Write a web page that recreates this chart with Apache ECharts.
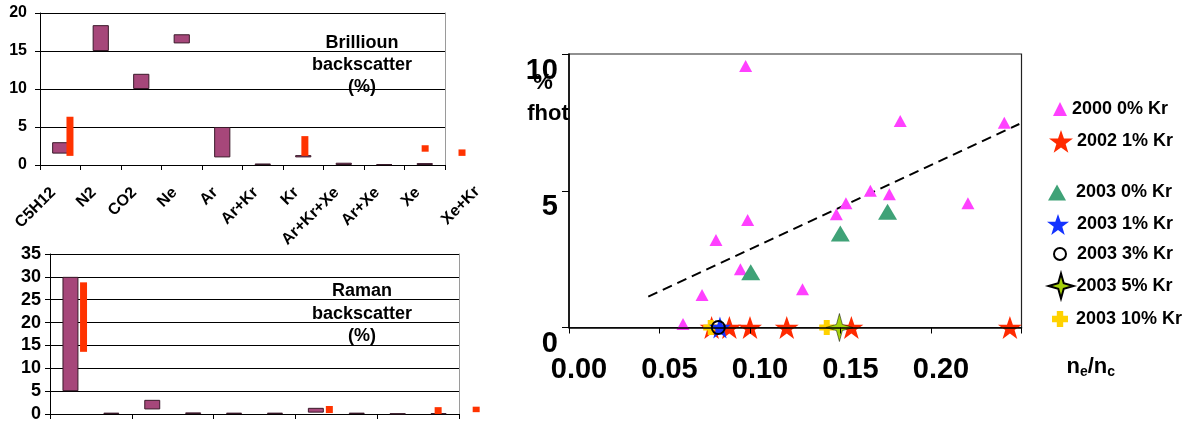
<!DOCTYPE html>
<html>
<head>
<meta charset="utf-8">
<script src="https://cdn.jsdelivr.net/npm/echarts@6/dist/echarts.min.js"></script>
<style>
  html, body { margin: 0; padding: 0; background: #ffffff; }
  #chart { width: 1190px; height: 427px; }
</style>
</head>
<body>
<div id="chart"></div>
<script>
// ---- gas fills (the last one sits past the end of the bar panels) ----
const gases = ['C5H12', 'N2', 'CO2', 'Ne', 'Ar', 'Ar+Kr', 'Kr', 'Ar+Kr+Xe', 'Ar+Xe', 'Xe', 'Xe+Kr'];

// Brillouin backscatter (%), measured range per gas: low .. high
const brillLow  = [1.5, 15.0, 10.0, 16.0, 1.0, 0.0, 1.0, 0.0, 0.0, 0.0];
const brillHigh = [3.0, 18.4, 12.0, 17.2, 5.0, 0.2, 1.3, 0.3, 0.1, 0.25];
// Brillouin backscatter (%), calculated range; position in category units
const brillCalcPos  = [0.24, 6.04, 9.01, 9.92];
const brillCalcLow  = [1.2, 1.2, 1.75, 1.2];
const brillCalcHigh = [6.35, 3.8, 2.6, 2.05];

// Raman backscatter (%), measured range per gas
const ramanLow  = [5.0, 0.0, 1.0, 0.0, 0.0, 0.0, 0.3, 0.0, 0.0, 0.0];
const ramanHigh = [30.0, 0.3, 3.1, 0.35, 0.3, 0.3, 1.35, 0.3, 0.1, 0.15];
// Raman backscatter (%), calculated range
const ramanCalcPos  = [0.32, 6.33, 8.99, 9.92];
const ramanCalcLow  = [13.6, 0.2, 0.0, 0.4];
const ramanCalcHigh = [28.8, 1.75, 1.5, 1.6];

// Hot-electron fraction fhot (%) against ne/nc
const fhot2000Kr0 = [
  [0.0976, 9.56], [0.183, 7.55], [0.2405, 7.49], [0.1665, 5.0], [0.177, 4.87],
  [0.153, 4.54], [0.1477, 4.14], [0.2204, 4.54], [0.0987, 3.93], [0.0812, 3.2],
  [0.0947, 2.13], [0.0735, 1.19], [0.129, 1.40], [0.063, 0.13]
];
const fhot2002Kr1  = [[0.0788, 0], [0.0886, 0], [0.100, 0], [0.1203, 0], [0.156, 0], [0.2436, 0]];
const fhot2003Kr0  = [[0.1004, 2.02], [0.1499, 3.44], [0.176, 4.23]];
const fhot2003Kr1  = [[0.0834, 0]];
const fhot2003Kr3  = [[0.0825, 0]];
const fhot2003Kr5  = [[0.1494, 0]];
const fhot2003Kr10 = [[0.0783, 0], [0.1424, 0]];
const fhotTrend    = [[0.0438, 1.13], [0.2488, 7.44]];

const seriesNames = ['2000 0% Kr', '2002 1% Kr', '2003 0% Kr', '2003 1% Kr', '2003 3% Kr', '2003 5% Kr', '2003 10% Kr'];
const fhotYTicks = [0, 5, 10];

// ---- drawing ----
const FONT = '"Liberation Sans", Arial, Helvetica, sans-serif';
const STAR = 'path://M50 0 L62 35 L99 35 L69 57 L80 93 L50 71 L20 93 L31 57 L1 35 L38 35 Z';
const SPARKLE = 'path://M50 0 L61 39 L100 50 L61 61 L50 100 L39 61 L0 50 L39 39 Z';
const PLUS = 'path://M30 0 H70 V30 H100 V70 H70 V100 H30 V70 H0 V30 H30 Z';
const BAR_FILL = '#a6477a';
const BAR_EDGE = '#3a1a2a';
const CALC_FILL = '#ff3300';

const gasesInPanel = gases.slice(0, 10);

function rangeBar(low, high) {
  return high.map((h, i) => +(h - low[i]).toFixed(3));
}

function calcRect(params, api) {
  const x = api.value(0);
  const p0 = api.coord([x, api.value(1)]);
  const p1 = api.coord([x, api.value(2)]);
  return {
    type: 'rect',
    shape: { x: p0[0] - 3.5, y: p1[1], width: 7, height: Math.max(p0[1] - p1[1], 1) },
    style: { fill: CALC_FILL }
  };
}

function zip3(a, b, c) { return a.map((v, i) => [v, b[i], c[i]]); }

const catAxis = (gridIndex, showLabels) => ({
  type: 'category', gridIndex, data: gasesInPanel,
  axisLine: { onZero: false, lineStyle: { color: '#000', width: 1 } },
  axisTick: { show: true, length: 5, alignWithLabel: false, lineStyle: { color: '#000' } },
  axisLabel: showLabels ? {
    rotate: 45, interval: 0, margin: 18, color: '#000', padding: [0, 10, 0, 0],
    fontFamily: FONT, fontWeight: 'bold', fontSize: 16
  } : { show: false },
  splitLine: { show: false }
});
const posAxis = (gridIndex) => ({
  type: 'value', gridIndex, min: -0.5, max: 9.5, show: false
});
const pctAxis = (gridIndex, max, fontSize, margin) => ({
  type: 'value', gridIndex, min: 0, max, interval: 5,
  axisLine: { show: true, onZero: false, lineStyle: { color: '#000' } },
  axisTick: { show: true, length: 5, lineStyle: { color: '#000' } },
  axisLabel: { color: '#000', fontFamily: FONT, fontWeight: 'bold', fontSize, margin },
  splitLine: { show: true, lineStyle: { color: '#000', width: 1 } }
});
const edgeAxis = (gridIndex, max) => ({
  type: 'value', gridIndex, position: 'right', min: 0, max,
  axisLine: { show: true, onZero: false, lineStyle: { color: '#9a9a9a' } },
  axisTick: { show: false }, axisLabel: { show: false }, splitLine: { show: false }
});

const option = {
  animation: false,
  backgroundColor: '#ffffff',
  textStyle: { fontFamily: FONT },
  grid: [
    { left: 40, top: 13, width: 405, height: 152 },
    { left: 50, top: 254, width: 409, height: 160 },
    { left: 569, top: 54, width: 452.5, height: 273.5, show: true, borderColor: '#222', borderWidth: 1.2 }
  ],
  xAxis: [
    catAxis(0, true),
    posAxis(0),
    catAxis(1, false),
    posAxis(1),
    {
      type: 'value', gridIndex: 2, min: 0, max: 0.25, interval: 0.05, z: 4,
      axisLine: { onZero: false, lineStyle: { color: '#000', width: 1.5 } },
      axisTick: { length: 6, lineStyle: { color: '#000' } },
      axisLabel: {
        color: '#000', fontFamily: FONT, fontWeight: 'bold', fontSize: 29, margin: 28,
        padding: [0, 0, 0, 20],
        formatter: v => (v > 0.2001 ? '' : v.toFixed(2))
      },
      splitLine: { show: false },
      name: '{n|n}{s|e}{n|/n}{s|c}', nameLocation: 'end', nameGap: 45,
      nameTextStyle: {
        verticalAlign: 'top', padding: [26, 0, 0, 0],
        rich: {
          n: { fontFamily: FONT, fontWeight: 'bold', fontSize: 22, color: '#000' },
          s: { fontFamily: FONT, fontWeight: 'bold', fontSize: 14, color: '#000', verticalAlign: 'bottom', padding: [12, 0, 0, 0] }
        }
      }
    }
  ],
  yAxis: [
    pctAxis(0, 20, 16, 13),
    edgeAxis(0, 20),
    pctAxis(1, 35, 18, 9),
    edgeAxis(1, 35),
    {
      type: 'value', gridIndex: 2, min: 0, max: 10, interval: 5,
      axisLine: { show: true, onZero: false, lineStyle: { color: '#000', width: 1.5 } },
      axisTick: { show: true, length: 7, lineStyle: { color: '#000' } },
      axisLabel: {
        color: '#000', fontFamily: FONT, fontWeight: 'bold', fontSize: 29, margin: 11,
        verticalAlign: 'top', padding: [2, 0, 0, 0],
        formatter: v => (fhotYTicks.includes(v) ? String(v) : '')
      },
      splitLine: { show: false }
    }
  ],
  graphic: [
    { type: 'text', x: 362, y: 32, z: 10,
      style: { text: 'Brillioun\nbackscatter\n(%)', textAlign: 'center', fill: '#000',
               font: 'bold 18px ' + FONT, lineHeight: 22 } },
    { type: 'text', x: 362, y: 280, z: 10,
      style: { text: 'Raman\nbackscatter\n(%)', textAlign: 'center', fill: '#000',
               font: 'bold 18px ' + FONT, lineHeight: 22.5 } },
    { type: 'text', x: 543, y: 83, z: 10,
      style: { text: '%', textAlign: 'center', textVerticalAlign: 'middle', fill: '#000',
               font: 'bold 22px ' + FONT } },
    { type: 'text', x: 548, y: 114, z: 10,
      style: { text: 'fhot', textAlign: 'center', textVerticalAlign: 'middle', fill: '#000',
               font: 'bold 22px ' + FONT } }
  ],
  legend: [],
  series: [
    // Brillouin panel
    { type: 'bar', xAxisIndex: 0, yAxisIndex: 0, stack: 'brill', barWidth: '40%',
      data: brillLow, itemStyle: { color: 'rgba(0,0,0,0)' }, silent: true },
    { type: 'bar', xAxisIndex: 0, yAxisIndex: 0, stack: 'brill', barWidth: '40%',
      data: rangeBar(brillLow, brillHigh),
      itemStyle: { color: BAR_FILL, borderColor: BAR_EDGE, borderWidth: 1 } },
    { type: 'custom', xAxisIndex: 1, yAxisIndex: 0, renderItem: calcRect,
      data: zip3(brillCalcPos, brillCalcLow, brillCalcHigh), z: 3 },
    { type: 'custom', xAxisIndex: 1, yAxisIndex: 0, data: [[gases.length - 1, 0]],
      renderItem: (params, api) => {
        const p = api.coord([api.value(0), api.value(1)]);
        return { type: 'text', x: p[0] + 12, y: p[1] + 24, rotation: Math.PI / 4,
          style: { text: gases[gases.length - 1], textAlign: 'right', textVerticalAlign: 'middle',
                   fill: '#000', font: 'bold 16px ' + FONT } };
      } },
    // Raman panel
    { type: 'bar', xAxisIndex: 2, yAxisIndex: 2, stack: 'raman', barWidth: '39%',
      data: ramanLow, itemStyle: { color: 'rgba(0,0,0,0)' }, silent: true },
    { type: 'bar', xAxisIndex: 2, yAxisIndex: 2, stack: 'raman', barWidth: '39%',
      data: rangeBar(ramanLow, ramanHigh),
      itemStyle: { color: BAR_FILL, borderColor: BAR_EDGE, borderWidth: 1 } },
    { type: 'custom', xAxisIndex: 3, yAxisIndex: 2, renderItem: calcRect,
      data: zip3(ramanCalcPos, ramanCalcLow, ramanCalcHigh), z: 3 },
    // fhot panel
    { type: 'line', xAxisIndex: 4, yAxisIndex: 4, data: fhotTrend, symbol: 'none', z: 1,
      lineStyle: { color: '#000', width: 2, type: [10, 6] } },
    { name: seriesNames[0], type: 'scatter', xAxisIndex: 4, yAxisIndex: 4, clip: false, z: 2,
      symbol: 'triangle', symbolSize: [13, 12], data: fhot2000Kr0, itemStyle: { color: '#ff40ff', opacity: 1 } },
    { name: seriesNames[2], type: 'scatter', xAxisIndex: 4, yAxisIndex: 4, clip: false, z: 2,
      symbol: 'triangle', symbolSize: [19, 16], data: fhot2003Kr0, itemStyle: { color: '#3fa277', opacity: 1 } },
    { name: seriesNames[1], type: 'scatter', xAxisIndex: 4, yAxisIndex: 4, clip: false, z: 2,
      symbol: STAR, symbolSize: [24, 23], data: fhot2002Kr1, itemStyle: { color: '#ff2a00', opacity: 1 } },
    { name: seriesNames[6], type: 'scatter', xAxisIndex: 4, yAxisIndex: 4, clip: false, z: 2,
      symbol: PLUS, symbolSize: [15, 15], data: fhot2003Kr10, itemStyle: { color: '#ffd200', opacity: 1 } },
    { name: seriesNames[3], type: 'scatter', xAxisIndex: 4, yAxisIndex: 4, clip: false, z: 2,
      symbol: STAR, symbolSize: [22, 22], data: fhot2003Kr1, itemStyle: { color: '#1433ff', opacity: 1 } },
    { name: seriesNames[5], type: 'scatter', xAxisIndex: 4, yAxisIndex: 4, clip: false, z: 2,
      symbol: SPARKLE, symbolSize: [27, 28], data: fhot2003Kr5,
      itemStyle: { color: '#a6d20a', borderColor: '#000', borderWidth: 0.5, opacity: 1 } },
    { name: seriesNames[4], type: 'scatter', xAxisIndex: 4, yAxisIndex: 4, clip: false, z: 2,
      symbol: 'circle', symbolSize: 13, data: fhot2003Kr3,
      itemStyle: { color: 'rgba(255,255,255,0)', borderColor: '#000', borderWidth: 2, opacity: 1 } }
  ]
};

// legend rows: [series name, icon size, row centre, icon centre x, text gap]
const legendRows = [
  [seriesNames[0], [14, 14], 110, 1060, 5],
  [seriesNames[1], [24, 23], 141.5, 1061, 4],
  [seriesNames[2], [18, 16], 193.5, 1057, 10],
  [seriesNames[3], [22, 22], 225, 1058, 8],
  [seriesNames[4], [12, 12], 255, 1059, 11],
  [seriesNames[5], [25, 28], 286.5, 1060, 3],
  [seriesNames[6], [16, 16], 320, 1060, 8]
];
legendRows.forEach(([name, size, cy, cx, gap]) => {
  const boxH = Math.max(size[1], 20);
  option.legend.push({
    data: [name], selectedMode: false,
    left: cx - size[0] / 2, top: cy - boxH / 2, padding: 0,
    itemWidth: size[0], itemHeight: size[1], itemGap: 0,
    textStyle: { color: '#000', fontFamily: FONT, fontWeight: 'bold', fontSize: 18,
                 padding: [0, 0, 0, gap - 5] }
  });
});

const chart = echarts.init(document.getElementById('chart'), null, { renderer: 'canvas' });
chart.setOption(option);
</script>
</body>
</html>
